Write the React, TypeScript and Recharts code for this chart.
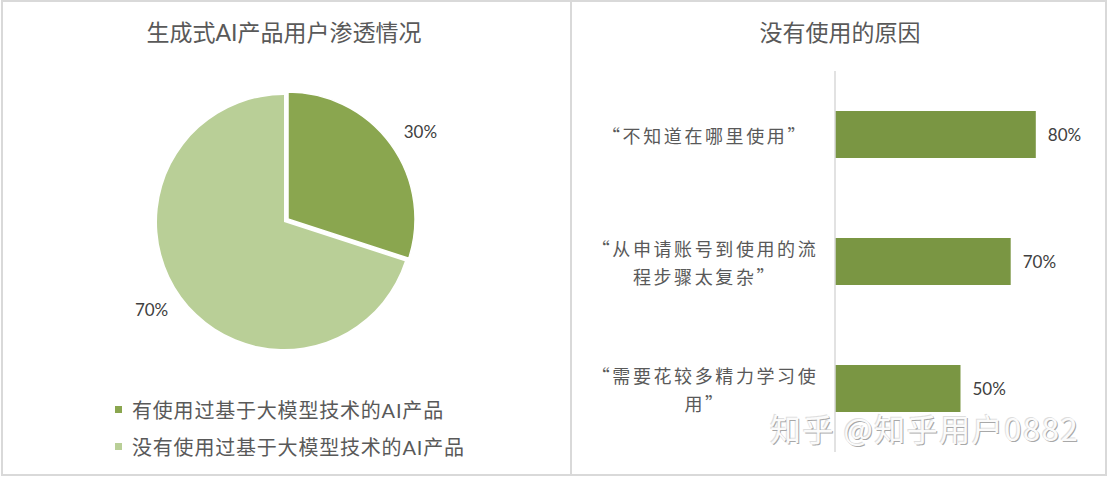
import { PieChart, Pie, Cell, Legend, BarChart, Bar, XAxis, YAxis, LabelList } from 'recharts';

const sliceNames = ['有使用过基于大模型技术的AI产品', '没有使用过基于大模型技术的AI产品'];
const sliceValues = [30, 70];
const sliceColors = ['#8aa64f', '#b9cf97'];

const reasons = ['“不知道在哪里使用”', '“从申请账号到使用的流程步骤太复杂”', '“需要花较多精力学习使用”'];
const reasonValues = [80, 70, 50];

const pieData = sliceNames.map((name, i) => ({ name, value: sliceValues[i] }));
const barData = reasons.map((name, i) => ({ name, value: reasonValues[i] }));

const CJK = '"Noto Sans CJK SC", sans-serif';
const MIXED = 'Lato, "Noto Sans CJK SC", sans-serif';
const GREY = '#595959';

// only the slice with index `show` gets a label
function pieLabel(show: number) {
  return (props: any) => {
    if (props.index !== show) return <g />;
    const RADIAN = Math.PI / 180;
    const r = Number(props.outerRadius) + 32;
    const a = (props.midAngle - 2.4) * RADIAN; // Excel nudges the labels a little clockwise
    const x = Number(props.cx) + r * Math.cos(-a);
    const y = Number(props.cy) + r * Math.sin(-a);
    return (
      <text x={x} y={y} textAnchor="middle" dominantBaseline="central" fill="#404040" fontSize={17} fontFamily={MIXED}>
        {`${Math.round(props.percent * 100)}%`}
      </text>
    );
  };
}

function PieLegend() {
  return (
    <div style={{ fontFamily: MIXED, fontSize: 20, color: GREY }}>
      {sliceNames.map((name, i) => (
        <div key={name} style={{ display: 'flex', alignItems: 'center', height: 37, letterSpacing: 0.8 }}>
          <span style={{ width: 7, height: 7, background: sliceColors[i], marginRight: 10, flex: 'none' }} />
          {name}
        </div>
      ))}
    </div>
  );
}

// wrap quoted reasons into lines of 11 characters, centred like Excel does
function ReasonTick(props: any) {
  const text: string = props.payload.value;
  const lines: string[] = [];
  for (let i = 0; i < text.length; i += 11) lines.push(text.slice(i, i + 11));
  const lh = 28;
  const y0 = props.y - ((lines.length - 1) * lh) / 2;
  return (
    <text x={134} y={y0} textAnchor="middle" dominantBaseline="central" fill={GREY} fontSize={18} fontFamily={CJK} letterSpacing={2.6}>
      {lines.map((l, i) => (
        <tspan key={i} x={134} y={y0 + i * lh}>
          {l}
        </tspan>
      ))}
    </text>
  );
}

const boxStyle = (left: number, width: number): React.CSSProperties => ({
  position: 'absolute',
  left,
  top: 0,
  width,
  height: 476,
  border: '2px solid #d9d9d9',
  boxSizing: 'border-box',
});

export default function App() {
  return (
    <div style={{ position: 'fixed', left: 0, top: 0, width: 1108, height: 477, background: '#fff', overflow: 'hidden' }}>
      <div style={boxStyle(1, 571)} />
      <div style={boxStyle(570, 537)} />

      <div
        style={{
          position: 'absolute',
          left: 284,
          top: 31,
          transform: 'translate(-50%, -50%)',
          fontFamily: MIXED,
          fontSize: 23,
          color: GREY,
          whiteSpace: 'nowrap',
        }}
      >
        生成式AI产品用户渗透情况
      </div>
      <div
        style={{
          position: 'absolute',
          left: 840,
          top: 31,
          transform: 'translate(-50%, -50%)',
          fontFamily: CJK,
          fontSize: 23,
          color: GREY,
          whiteSpace: 'nowrap',
        }}
      >
        没有使用的原因
      </div>

      {/* watermark */}
      <div
        style={{
          position: 'absolute',
          left: 770,
          top: 405,
          fontFamily: CJK,
          fontSize: 31,
          letterSpacing: 1.5,
          color: '#fbfbfb',
          textShadow: '1px 1px 0 #a8a8a8, -1px -1px 0 #dedede',
          whiteSpace: 'nowrap',
        }}
      >
        知乎 @知乎用户0882
      </div>

      <div style={{ position: 'absolute', left: 0, top: 0 }}>
        <PieChart width={570} height={476} margin={{ top: 0, right: 0, bottom: 0, left: 0 }}>
          <Pie
            data={pieData}
            dataKey="value"
            nameKey="name"
            cx={288}
            cy={219}
            outerRadius={127}
            startAngle={90}
            endAngle={-270}
            stroke="#fff"
            strokeWidth={1.5}
            label={pieLabel(0)}
            labelLine={false}
            isAnimationActive={false}
          >
            {pieData.map((d, i) => (
              <Cell key={d.name} fill={i === 0 ? sliceColors[0] : 'none'} stroke={i === 0 ? '#fff' : 'none'} />
            ))}
          </Pie>
          <Pie
            data={pieData}
            dataKey="value"
            nameKey="name"
            cx={284}
            cy={222}
            outerRadius={127}
            startAngle={90}
            endAngle={-270}
            stroke="none"
            label={pieLabel(1)}
            labelLine={false}
            isAnimationActive={false}
          >
            {pieData.map((d, i) => (
              <Cell key={d.name} fill={i === 1 ? sliceColors[1] : 'none'} />
            ))}
          </Pie>
          <Legend
            content={() => <PieLegend />}
            wrapperStyle={{ left: 115, top: 391, width: 420, bottom: 'auto' }}
          />
        </PieChart>
      </div>

      <div style={{ position: 'absolute', left: 571, top: 0 }}>
        <BarChart
          width={536}
          height={476}
          layout="vertical"
          data={barData}
          margin={{ top: 71, right: 21, bottom: 24, left: 0 }}
        >
          <XAxis type="number" domain={[0, 100]} hide />
          <YAxis
            type="category"
            dataKey="name"
            width={264}
            axisLine={{ stroke: '#d9d9d9', strokeWidth: 1.5 }}
            tickLine={false}
            tick={<ReasonTick />}
          />
          <Bar dataKey="value" fill="#7a9643" barSize={47} isAnimationActive={false}>
            <LabelList
              dataKey="value"
              position="right"
              offset={12}
              formatter={(v: any) => `${v}%`}
              fill="#404040"
              fontSize={17}
              fontFamily={MIXED}
            />
          </Bar>
        </BarChart>
      </div>
    </div>
  );
}
